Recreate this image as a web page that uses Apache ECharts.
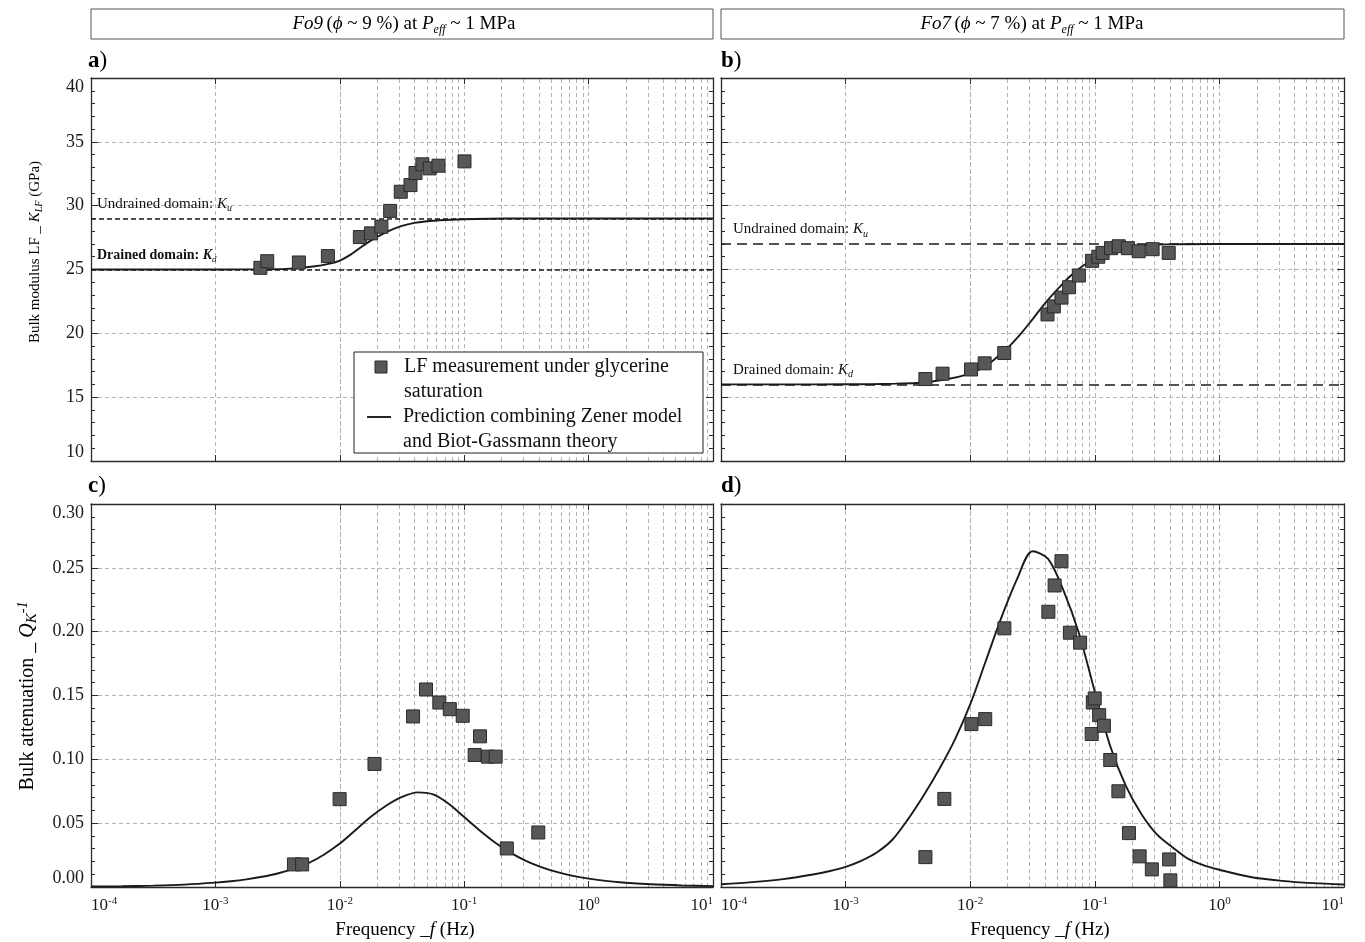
<!DOCTYPE html>
<html><head><meta charset="utf-8">
<script src="https://cdn.jsdelivr.net/npm/echarts@6/dist/echarts.min.js"></script>
<style>html,body{margin:0;padding:0;background:#fff}#chart{width:1365px;height:942px}</style>
</head><body><div id="chart"></div>
<script>
// ---------------- DATA ----------------
// Panel a: Fo9 bulk modulus, LF measurements (frequency Hz, K GPa)
const fo9ModFreq = [0.0023, 0.00261, 0.00469, 0.00802, 0.0145, 0.0178, 0.0216, 0.0254, 0.0309, 0.0370, 0.0406, 0.0461, 0.0528, 0.0621, 0.1005];
const fo9ModK    = [25.13, 25.65, 25.55, 26.05, 27.54, 27.83, 28.35, 29.59, 31.09, 31.61, 32.56, 33.24, 32.92, 33.13, 33.47];
// Panel a: prediction curve (log10 f, K)
const fo9ModCurveLogF = [-4, -3.5, -3, -2.8, -2.6, -2.4, -2.2, -2.1, -2.0, -1.9, -1.8, -1.7, -1.6, -1.5, -1.4, -1.3, -1.2, -1.0, -0.8, -0.5, 0, 0.5, 1];
const fo9ModCurveK    = [25.0, 25.0, 25.0, 25.01, 25.02, 25.07, 25.25, 25.42, 25.7, 26.25, 26.95, 27.55, 28.05, 28.42, 28.65, 28.78, 28.86, 28.94, 28.98, 29.0, 29.0, 29.0, 29.0];
const fo9Ku = 29, fo9Kd = 25;

// Panel b: Fo7 bulk modulus
const fo7ModFreq = [0.00437, 0.0060, 0.01016, 0.01306, 0.01876, 0.0417, 0.0469, 0.0540, 0.0622, 0.0745, 0.0951, 0.1067, 0.1156, 0.135, 0.1556, 0.1845, 0.225, 0.291, 0.392];
const fo7ModK    = [16.42, 16.84, 17.17, 17.65, 18.46, 21.48, 22.11, 22.8, 23.61, 24.53, 25.68, 26.0, 26.3, 26.67, 26.82, 26.67, 26.43, 26.59, 26.3];
const fo7ModCurveLogF = [-4, -3.5, -3, -2.8, -2.6, -2.4, -2.2, -2.0, -1.9, -1.8, -1.7, -1.6, -1.5, -1.4, -1.3, -1.2, -1.1, -1.0, -0.9, -0.8, -0.6, -0.4, 0, 0.5, 1];
const fo7ModCurveK    = [16.0, 16.0, 16.01, 16.02, 16.06, 16.13, 16.38, 16.85, 17.3, 18.0, 18.85, 19.9, 21.1, 22.35, 23.45, 24.45, 25.25, 25.85, 26.35, 26.68, 26.9, 26.97, 27.0, 27.0, 27.0];
const fo7Ku = 27, fo7Kd = 16;

// Panel c: Fo9 bulk attenuation
const fo9AttFreq = [0.00428, 0.00498, 0.00997, 0.0190, 0.0388, 0.0493, 0.0631, 0.0766, 0.0973, 0.1214, 0.134, 0.155, 0.179, 0.22, 0.394];
const fo9AttQ    = [0.0177, 0.0177, 0.0688, 0.0964, 0.1336, 0.1547, 0.1445, 0.1393, 0.1341, 0.1034, 0.118, 0.1021, 0.1021, 0.0302, 0.0427];
const fo9AttCurveLogF = [-4, -3.75, -3.5, -3.25, -3, -2.875, -2.75, -2.625, -2.5, -2.375, -2.25, -2.125, -2, -1.875, -1.75, -1.625, -1.5, -1.375, -1.25, -1.125, -1, -0.875, -0.75, -0.625, -0.5, -0.375, -0.25, -0.125, 0, 0.25, 0.5, 0.75, 1];
const fo9AttCurveQ    = [0.0004, 0.0006, 0.0011, 0.0019, 0.0034, 0.0045, 0.0060, 0.0080, 0.0106, 0.0142, 0.0188, 0.0255, 0.0340, 0.0445, 0.0550, 0.0638, 0.0705, 0.0741, 0.0725, 0.0652, 0.0548, 0.0443, 0.0347, 0.0267, 0.0203, 0.0154, 0.0116, 0.0087, 0.0066, 0.0037, 0.0021, 0.0012, 0.0007];

// Panel d: Fo7 bulk attenuation
const fo7AttFreq = [0.00437, 0.0062, 0.01023, 0.0132, 0.0188, 0.0424, 0.0476, 0.054, 0.0631, 0.0762, 0.0964, 0.0998, 0.0944, 0.1084, 0.1183, 0.133, 0.1546, 0.188, 0.229, 0.287, 0.395, 0.404];
const fo7AttQ    = [0.0234, 0.069, 0.1276, 0.1315, 0.2026, 0.2156, 0.2362, 0.2552, 0.1992, 0.1914, 0.1445, 0.1477, 0.1198, 0.1346, 0.1263, 0.0995, 0.075, 0.0422, 0.024, 0.0138, 0.0216, 0.0052];
const fo7AttCurveLogF = [-4, -3.75, -3.5, -3.25, -3.125, -3, -2.875, -2.75, -2.625, -2.5, -2.375, -2.25, -2.125, -2, -1.875, -1.75, -1.625, -1.5, -1.375, -1.25, -1.125, -1, -0.875, -0.75, -0.625, -0.5, -0.375, -0.25, -0.125, 0, 0.25, 0.5, 0.75, 1];
const fo7AttCurveQ    = [0.0022, 0.0038, 0.0062, 0.0100, 0.0125, 0.0158, 0.0205, 0.027, 0.037, 0.053, 0.0715, 0.092, 0.115, 0.143, 0.177, 0.211, 0.241, 0.263, 0.257, 0.232, 0.198, 0.153, 0.110, 0.079, 0.057, 0.041, 0.031, 0.022, 0.017, 0.0135, 0.0078, 0.0048, 0.003, 0.002];

// Axis ticks / ranges
const freqMin = 1e-4, freqMax = 10;
const gridDecades = [-4, -3, -2, -1, 0];
const gridMultipliers = [2, 3, 4, 5, 6, 7, 8, 9];
const modRange = [10, 40], modStep = 5;
const attRange = [0, 0.30], attStep = 0.05;

const headerTexts = [
  '{i|Fo9} {n|(}{i|ϕ}{n| ~ 9 %) at }{i|P}{sub|eff}{n| ~ 1 MPa}',
  '{i|Fo7} {n|(}{i|ϕ}{n| ~ 7 %) at }{i|P}{sub|eff}{n| ~ 1 MPa}'
];
const panelLetters = ['a', 'b', 'c', 'd'];
const legendMeasure = ['LF measurement under glycerine', 'saturation'];
const legendPredict = ['Prediction combining Zener model', 'and Biot-Gassmann theory'];

// ---------------- CHART ----------------
const FONT = 'Liberation Serif';
const chart = echarts.init(document.getElementById('chart'));

const grids = [
  {left: 91, top: 78, width: 622, height: 383},
  {left: 721, top: 78, width: 623, height: 383},
  {left: 91, top: 504, width: 622, height: 383},
  {left: 721, top: 504, width: 623, height: 383}
];

const pair = (xs, ys) => xs.map((x, i) => [x, ys[i]]);
const pairLog = (ls, ys) => ls.map((l, i) => [Math.pow(10, l), ys[i]]);
const minorLines = [];
gridDecades.forEach(d => gridMultipliers.forEach(m => minorLines.push({xAxis: m * Math.pow(10, d)})));

const xAxis = [], yAxis = [];
const axisCol = '#2b2b2b';
const gridCol = '#b4b4b4';
grids.forEach((g, i) => {
  const isMod = i < 2;
  const common = {
    type: 'log', logBase: 10, gridIndex: i, min: freqMin, max: freqMax,
    axisLine: {show: true, onZero: false, lineStyle: {color: axisCol, width: 1.3}},
    axisTick: {show: true, inside: true, length: 6, lineStyle: {color: axisCol}}
  };
  xAxis.push(Object.assign({}, common, {
    position: 'bottom',
    axisLabel: {
      show: i >= 2, margin: 9, alignMinLabel: 'left', alignMaxLabel: 'right',
      formatter: v => '{b|10}{s|' + Math.round(Math.log10(v)) + '}',
      rich: {
        b: {fontFamily: FONT, fontSize: 17, color: '#1a1a1a', lineHeight: 20},
        s: {fontFamily: FONT, fontSize: 11, color: '#1a1a1a', lineHeight: 12, verticalAlign: 'top'}
      }
    },
    splitLine: {show: true, lineStyle: {type: [4, 3], color: gridCol, width: 1}}
  }));
  xAxis.push(Object.assign({}, common, {position: 'top', axisLabel: {show: false}, splitLine: {show: false}}));

  const yCommon = {
    type: 'value', gridIndex: i,
    min: isMod ? modRange[0] : attRange[0], max: isMod ? modRange[1] : attRange[1],
    interval: isMod ? modStep : attStep,
    axisLine: {show: true, onZero: false, lineStyle: {color: axisCol, width: 1.3}},
    axisTick: {show: true, inside: true, length: 7, lineStyle: {color: axisCol}},
    minorTick: {show: true, splitNumber: 5, length: 4, lineStyle: {color: axisCol}}
  };
  yAxis.push(Object.assign({}, yCommon, {
    position: 'left',
    axisLabel: {
      show: i % 2 === 0, margin: 7, fontFamily: FONT, fontSize: 18, color: '#1a1a1a',
      formatter: isMod ? (v => String(Math.round(v))) : (v => v.toFixed(2)),
      verticalAlignMinLabel: 'bottom', verticalAlignMaxLabel: 'top'
    },
    splitLine: {show: true, lineStyle: {type: [4, 3], color: gridCol, width: 1}}
  }));
  yAxis.push(Object.assign({}, yCommon, {position: 'right', axisLabel: {show: false}, splitLine: {show: false}}));
});

function domainLabel(text, sub, size, bold, dx) {
  return {
    show: true, position: 'insideStartTop', distance: [dx, 5],
    formatter: '{t|' + text + ' }{k|K}{u|' + sub + '}',
    rich: {
      t: {fontFamily: FONT, fontSize: size, fontWeight: bold ? 'bold' : 'normal', color: '#111', lineHeight: size + 4},
      k: {fontFamily: FONT, fontSize: size, fontStyle: 'italic', fontWeight: bold ? 'bold' : 'normal', color: '#111', lineHeight: size + 4},
      u: {fontFamily: FONT, fontSize: size - 5, fontStyle: 'italic', color: '#111', lineHeight: 8, verticalAlign: 'bottom'}
    }
  };
}

const series = [];
function addPanel(i, pts, curve, refLines, dash, smooth) {
  series.push({
    type: 'line', xAxisIndex: 2 * i, yAxisIndex: 2 * i, data: [], silent: true, z: 0,
    markLine: {silent: true, symbol: 'none', animation: false, z: 0, label: {show: false},
      lineStyle: {type: [4, 3], color: gridCol, width: 1}, data: minorLines}
  });
  const s = {
    type: 'line', name: 'curve' + i, xAxisIndex: 2 * i, yAxisIndex: 2 * i, data: curve,
    smooth: smooth, showSymbol: false, animation: false, z: 3,
    lineStyle: {color: '#1a1a1a', width: 1.9}
  };
  if (refLines) {
    s.markLine = {silent: true, symbol: 'none', animation: false, z: 2,
      lineStyle: {type: dash, color: '#1a1a1a', width: 1.7},
      data: refLines};
  }
  series.push(s);
  series.push({
    type: 'scatter', xAxisIndex: 2 * i, yAxisIndex: 2 * i, data: pts, animation: false, z: 4,
    symbol: 'rect', symbolSize: 13,
    itemStyle: {color: '#575757', borderColor: '#2a2a2a', borderWidth: 1, opacity: 1}
  });
}

addPanel(0, pair(fo9ModFreq, fo9ModK), pairLog(fo9ModCurveLogF, fo9ModCurveK), [
  {yAxis: fo9Ku, label: domainLabel('Undrained domain:', 'u', 15, false, 6)},
  {yAxis: fo9Kd, label: domainLabel('Drained domain:', 'd', 14, true, 6)}
], [5, 3], 0.4);
addPanel(1, pair(fo7ModFreq, fo7ModK), pairLog(fo7ModCurveLogF, fo7ModCurveK), [
  {yAxis: fo7Ku, label: domainLabel('Undrained domain:', 'u', 15, false, 12)},
  {yAxis: fo7Kd, label: domainLabel('Drained domain:', 'd', 15, false, 12)}
], [10, 6], 0.4);
addPanel(2, pair(fo9AttFreq, fo9AttQ), pairLog(fo9AttCurveLogF, fo9AttCurveQ), null, null, 0.3);
addPanel(3, pair(fo7AttFreq, fo7AttQ), pairLog(fo7AttCurveLogF, fo7AttCurveQ), null, null, 0.3);

// ---------------- GRAPHIC TEXT ----------------
const headRich = {
  n: {fontFamily: FONT, fontSize: 19, color: '#111', lineHeight: 24},
  i: {fontFamily: FONT, fontSize: 19, fontStyle: 'italic', color: '#111', lineHeight: 24},
  sub: {fontFamily: FONT, fontSize: 12, fontStyle: 'italic', color: '#111', lineHeight: 10, verticalAlign: 'bottom'}
};
const graphic = [];
[[91, 622, 404], [721, 623, 1032]].forEach((b, k) => {
  graphic.push({type: 'rect', shape: {x: b[0], y: 9, width: b[1], height: 30},
    style: {fill: '#fff', stroke: '#555', lineWidth: 1}, z: 10});
  graphic.push({type: 'text', x: b[2], y: 24, z: 11,
    style: {text: headerTexts[k], rich: headRich, textAlign: 'center', textVerticalAlign: 'middle', align: 'center', verticalAlign: 'middle'}});
});
[[88, 61], [721, 61], [88, 486], [721, 486]].forEach((p, k) => {
  graphic.push({type: 'text', x: p[0], y: p[1], z: 11,
    style: {text: '{b|' + panelLetters[k] + '}{n|)}', textVerticalAlign: 'middle', verticalAlign: 'middle',
      rich: {b: {fontFamily: FONT, fontSize: 23, fontWeight: 'bold', color: '#111'},
             n: {fontFamily: FONT, fontSize: 23, color: '#111'}}}});
});
// axis titles
const smallRich = (sz) => ({
  n: {fontFamily: FONT, fontSize: sz, color: '#111', lineHeight: sz + 4},
  i: {fontFamily: FONT, fontSize: sz, fontStyle: 'italic', color: '#111', lineHeight: sz + 4},
  sub: {fontFamily: FONT, fontSize: sz - 5, fontStyle: 'italic', color: '#111', lineHeight: 8, verticalAlign: 'bottom'},
  sup: {fontFamily: FONT, fontSize: sz - 6, fontStyle: 'italic', color: '#111', lineHeight: 8, verticalAlign: 'top'}
});
graphic.push({type: 'text', x: 35, y: 252, rotation: Math.PI / 2, z: 11,
  style: {text: '{n|Bulk modulus LF _ }{i|K}{sub|LF}{n| (GPa)}', rich: smallRich(15),
    textAlign: 'center', textVerticalAlign: 'middle', align: 'center', verticalAlign: 'middle'}});
graphic.push({type: 'text', x: 28, y: 696, rotation: Math.PI / 2, z: 11,
  style: {text: '{n|Bulk attenuation _ }{i|Q}{sub|K}{sup|-1}', rich: smallRich(20),
    textAlign: 'center', textVerticalAlign: 'middle', align: 'center', verticalAlign: 'middle'}});
[405, 1040].forEach(x => graphic.push({type: 'text', x: x, y: 930, z: 11,
  style: {text: '{n|Frequency _}{i|f}{n| (Hz)}', rich: smallRich(19),
    textAlign: 'center', textVerticalAlign: 'middle', align: 'center', verticalAlign: 'middle'}}));
// legend box in panel a
const legFont = '20px ' + FONT;
graphic.push({type: 'group', x: 354, y: 352, z: 20, children: [
  {type: 'rect', z: 20, shape: {x: 0, y: 0, width: 349, height: 101}, style: {fill: '#fff', stroke: '#222', lineWidth: 1}},
  {type: 'rect', z: 21, shape: {x: 21, y: 9, width: 12, height: 12}, style: {fill: '#575757', stroke: '#2a2a2a', lineWidth: 1}},
  {type: 'text', z: 21, x: 50, y: 15, style: {text: legendMeasure[0], font: legFont, fill: '#111', textVerticalAlign: 'middle', verticalAlign: 'middle'}},
  {type: 'text', z: 21, x: 50, y: 40, style: {text: legendMeasure[1], font: legFont, fill: '#111', textVerticalAlign: 'middle', verticalAlign: 'middle'}},
  {type: 'line', z: 21, shape: {x1: 13, y1: 65, x2: 37, y2: 65}, style: {stroke: '#1a1a1a', lineWidth: 1.9}},
  {type: 'text', z: 21, x: 49, y: 65, style: {text: legendPredict[0], font: legFont, fill: '#111', textVerticalAlign: 'middle', verticalAlign: 'middle'}},
  {type: 'text', z: 21, x: 49, y: 90, style: {text: legendPredict[1], font: legFont, fill: '#111', textVerticalAlign: 'middle', verticalAlign: 'middle'}}
]});

chart.setOption({
  animation: false,
  backgroundColor: '#fff',
  grid: grids.map(g => Object.assign({show: false, containLabel: false}, g)),
  xAxis: xAxis,
  yAxis: yAxis,
  series: series,
  graphic: graphic
});
</script></body></html>
